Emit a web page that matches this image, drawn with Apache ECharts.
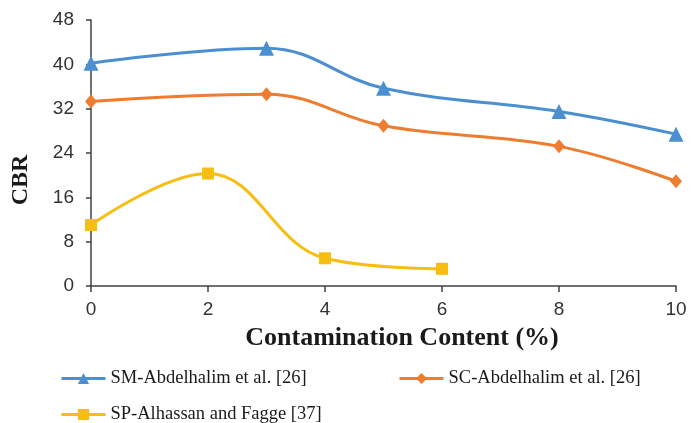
<!DOCTYPE html>
<html>
<head>
<meta charset="utf-8">
<script src="https://cdn.jsdelivr.net/npm/echarts@6/dist/echarts.min.js"></script>
<style>
html,body{margin:0;padding:0;background:#fff;}
#chart{width:691px;height:423px;}
</style>
</head>
<body>
<div id="chart"></div>
<script>
const seriesNames = ['SM-Abdelhalim et al. [26]', 'SC-Abdelhalim et al. [26]', 'SP-Alhassan and Fagge [37]'];
const smX = [0, 3, 5, 8, 10];
const smY = [40.2, 42.9, 35.7, 31.5, 27.4];
const scX = [0, 3, 5, 8, 10];
const scY = [33.3, 34.6, 28.9, 25.2, 18.9];
const spX = [0, 2, 4, 6];
const spY = [11.0, 20.3, 5.0, 3.1];
const xTitle = 'Contamination Content (%)';
const yTitle = 'CBR';

const colors = ['#4C8FD1', '#ED7D31', '#F7BE12'];
const pair = (xs, ys) => xs.map((x, i) => [x, ys[i]]);

const chart = echarts.init(document.getElementById('chart'));
const legendText = {fontFamily: '"Liberation Serif", serif', fontSize: 18.5, color: '#1a1a1a'};
const mkLegend = (name, left, top) => ({
  data: [name], left: left, top: top, itemWidth: 44, itemHeight: 14,
  itemGap: 0, textStyle: legendText, padding: 0,
  lineStyle: {width: 3}
});
chart.setOption({
  animation: false,
  backgroundColor: '#fff',
  grid: {left: 91, right: 15, top: 20, bottom: 137},
  legend: [
    mkLegend(seriesNames[0], 60, 369),
    mkLegend(seriesNames[1], 398, 369),
    mkLegend(seriesNames[2], 60, 405)
  ],
  xAxis: {
    type: 'value', min: 0, max: 10, interval: 2,
    axisLine: {lineStyle: {color: '#404040', width: 1.5}},
    axisTick: {show: true, length: 6, lineStyle: {color: '#404040', width: 1.5}},
    splitLine: {show: false},
    axisLabel: {fontFamily: '"Liberation Sans", Arial, sans-serif', fontSize: 19, color: '#333', margin: 14}
  },
  yAxis: {
    type: 'value', min: 0, max: 48, interval: 8,
    axisLine: {show: true, lineStyle: {color: '#404040', width: 1.5}},
    axisTick: {show: true, length: 5, lineStyle: {color: '#404040', width: 1.5}},
    splitLine: {show: false},
    axisLabel: {fontFamily: '"Liberation Sans", Arial, sans-serif', fontSize: 19, color: '#333', margin: 17}
  },
  graphic: [
    {type: 'text', x: 402, y: 338, style: {text: xTitle, fontFamily: '"Liberation Serif", serif', fontWeight: 'bold', fontSize: 26, fill: '#1a1a1a', textAlign: 'center', textVerticalAlign: 'middle'}},
    {type: 'text', x: 21, y: 180, rotation: Math.PI / 2, style: {text: yTitle, fontFamily: '"Liberation Serif", serif', fontWeight: 'bold', fontSize: 24, fill: '#1a1a1a', textAlign: 'center', textVerticalAlign: 'middle'}}
  ],
  series: [
    {name: seriesNames[0], type: 'line', data: pair(smX, smY), smooth: 0.4, symbol: 'triangle', symbolSize: 15,
     itemStyle: {color: colors[0]}, lineStyle: {color: colors[0], width: 3}},
    {name: seriesNames[1], type: 'line', data: pair(scX, scY), smooth: 0.4, symbol: 'diamond', symbolSize: [12, 14],
     itemStyle: {color: colors[1]}, lineStyle: {color: colors[1], width: 3}},
    {name: seriesNames[2], type: 'line', data: pair(spX, spY), smooth: 0.4, symbol: 'rect', symbolSize: 12,
     itemStyle: {color: colors[2]}, lineStyle: {color: colors[2], width: 3}}
  ]
});
</script>
</body>
</html>
